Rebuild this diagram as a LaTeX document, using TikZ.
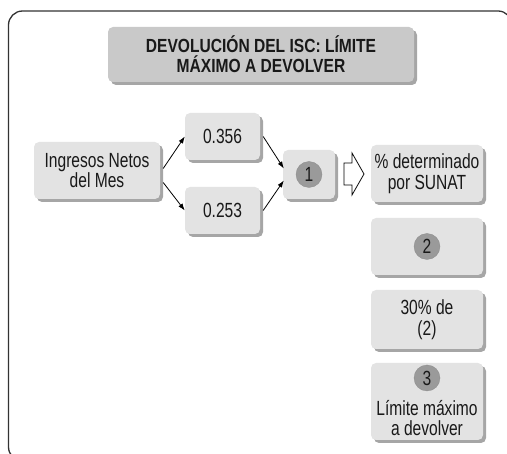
\documentclass[tikz,border=0pt]{standalone}
\usepackage{fontspec}
\setmainfont{Liberation Sans}[FakeStretch=0.76]
\newfontfamily\mytitlefam{Liberation Sans}[FakeStretch=0.82]
\usetikzlibrary{shadows,arrows.meta}
\definecolor{boxfill}{HTML}{E3E3E3}
\definecolor{shadowc}{HTML}{A6A6A6}
\definecolor{titlefill}{HTML}{C9C9C9}
\definecolor{circfill}{HTML}{9A9A9A}
\definecolor{framec}{HTML}{333333}
\newcommand\mybodyfnt{\fontsize{20.5}{20.5}\selectfont}
\newcommand\mytitlefnt{\mytitlefam\fontsize{19}{20}\selectfont\bfseries}
\begin{document}
\begin{tikzpicture}[x=1pt,y=-1pt,
  box/.style={fill=boxfill, rounded corners=5pt, inner sep=0pt, align=center,
    font=\mybodyfnt, text=black!90,
    drop shadow={shadow xshift=3pt, shadow yshift=-3pt, fill=shadowc, opacity=1}},
  tbox/.style={box, fill=titlefill, font=\mytitlefnt},
  circ/.style={circle, fill=circfill, draw=black!45, line width=0.3pt,
    minimum size=26pt, inner sep=0pt, font=\mybodyfnt, text=black!90},
  plain/.style={inner sep=0pt, align=center, font=\mybodyfnt, text=black!90},
  conn/.style={line width=0.8pt, -{Latex[length=7pt,width=5pt]}}
]
\path[use as bounding box] (0,0) rectangle (507,454);
\begin{scope}
  \clip (0,0) rectangle (507,454);
  \draw[framec, line width=1.3pt, rounded corners=14pt] (8.5,11) rectangle (512,461);
\end{scope}

\node[tbox, minimum width=306pt, minimum height=55pt] (title) at (261,54.5)
  {DEVOLUCIÓN DEL ISC: LÍMITE\\MÁXIMO A DEVOLVER};

\node[box, minimum width=126pt, minimum height=57pt] (ing) at (97,170.5) {Ingresos Netos\\del Mes};
\node[box, minimum width=75pt, minimum height=47pt] (v1) at (222.5,136.5) {0.356};
\node[box, minimum width=75pt, minimum height=47pt] (v2) at (222.5,210.5) {0.253};
\node[box, minimum width=52pt, minimum height=49pt] (b1) at (309,174.5) {};
\node[circ] (c1) at (b1) {1};

\node[box, minimum width=112pt, minimum height=57pt] (pd) at (427,173.5) {\% determinado\\por SUNAT};
\node[box, minimum width=112pt, minimum height=57pt] (b2) at (427,246.5) {};
\node[circ] (c2) at (b2) {2};
\node[box, minimum width=112pt, minimum height=59pt] (b30) at (427,319.5) {30\% de\\(2)};
\node[box, minimum width=112pt, minimum height=77pt] (b3) at (427,401.5) {};
\node[circ] (c3) at (427,378) {3};
\node[plain] (t3) at (427,418) {Límite máximo\\a devolver};

\draw[conn] ([xshift=3pt,yshift=2pt]ing.east) -- (v1.west);
\draw[conn] ([xshift=3pt,yshift=-12pt]ing.east) -- (v2.west);
\draw[conn] ([xshift=3pt]v1.east) -- ([xshift=1pt,yshift=6pt]b1.west);
\draw[conn] ([xshift=3pt]v2.east) -- ([xshift=1pt,yshift=-6pt]b1.west);

\coordinate (ha) at (344,174);
\draw[line width=0.8pt, fill=white, line join=miter]
  (ha) ++(0,-11) -- ++(8,0) -- ++(0,-10) -- (364,174) -- (352,195) -- ++(0,-10) -- ++(-8,0) -- cycle;
\end{tikzpicture}
\end{document}
